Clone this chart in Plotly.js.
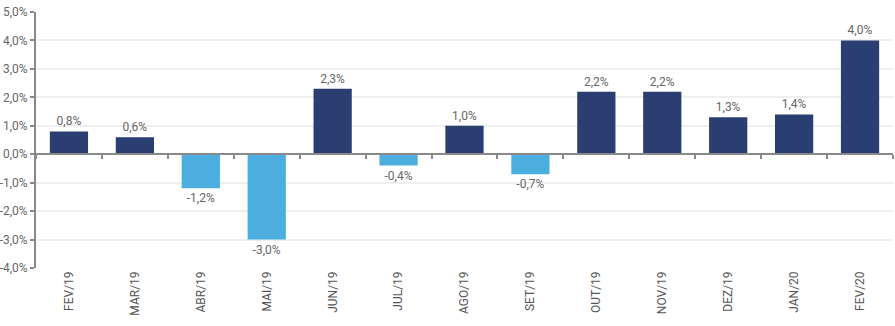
<!DOCTYPE html>
<html>
<head>
<meta charset="utf-8">
<script src="https://cdn.plot.ly/plotly-3.0.1.min.js"></script>
<style>html,body{margin:0;padding:0;background:#fff;}#chart{width:895px;height:326px;}</style>
</head>
<body>
<div id="chart"></div>
<script>
const categories = ["FEV/19","MAR/19","ABR/19","MAI/19","JUN/19","JUL/19","AGO/19","SET/19","OUT/19","NOV/19","DEZ/19","JAN/20","FEV/20"];
const values = [0.8, 0.6, -1.2, -3.0, 2.3, -0.4, 1.0, -0.7, 2.2, 2.2, 1.3, 1.4, 4.0];
const yTickVals = [-4, -3, -2, -1, 0, 1, 2, 3, 4, 5];

const posColor = "#2B3E72";
const negColor = "#4BAEDF";
const fontFam = "Roboto, 'Liberation Sans', Arial, sans-serif";

const fmt = v => v.toFixed(1).replace('.', ',') + '%';

const bars = {
  type: 'bar',
  x: categories,
  y: values,
  xaxis: 'x',
  yaxis: 'y',
  marker: {color: values.map(v => v >= 0 ? posColor : negColor)},
  text: values.map(fmt),
  textposition: 'outside',
  textfont: {family: fontFam, size: 12, color: '#666'},
  cliponaxis: false,
  hoverinfo: 'skip'
};
const labelsTrace = {
  type: 'bar',
  x: categories,
  y: values.map(() => null),
  xaxis: 'x2',
  yaxis: 'y',
  showlegend: false,
  hoverinfo: 'skip'
};

const ymin = yTickVals[0], ymax = yTickVals[yTickVals.length - 1];

const layout = {
  width: 895, height: 326,
  margin: {l: 36, r: 2, t: 12, b: 58},
  paper_bgcolor: '#fff', plot_bgcolor: '#fff',
  showlegend: false,
  bargap: 0.42,
  font: {family: fontFam, color: '#555'},
  xaxis: {
    type: 'category',
    anchor: 'free',
    position: (0 - ymin) / (ymax - ymin),
    showline: true, linecolor: '#8a8a8a', linewidth: 2,
    ticks: 'outside', tickson: 'boundaries', ticklen: 4, tickcolor: '#8a8a8a', tickwidth: 2,
    showticklabels: false,
    showgrid: false, zeroline: false,
    fixedrange: true
  },
  xaxis2: {
    type: 'category',
    overlaying: 'x',
    matches: 'x',
    anchor: 'y', side: 'bottom',
    showline: false, ticks: '', showgrid: false, zeroline: false,
    tickangle: -90,
    tickfont: {family: fontFam, size: 12, color: '#555'},
    fixedrange: true
  },
  yaxis: {
    range: [ymin, ymax],
    tickvals: yTickVals,
    ticktext: yTickVals.map(v => v.toFixed(1).replace('.', ',') + '%'),
    showline: true, linecolor: '#8a8a8a', linewidth: 2,
    ticks: 'outside', ticklen: 4, tickcolor: '#8a8a8a', tickwidth: 2,
    showgrid: true, gridcolor: '#efefef', gridwidth: 2,
    zeroline: false,
    tickfont: {family: fontFam, size: 12, color: '#666'},
    ticklabelstandoff: 0,
    fixedrange: true
  }
};

Plotly.newPlot('chart', [bars, labelsTrace], layout, {displayModeBar: false, staticPlot: true});
</script>
</body>
</html>
